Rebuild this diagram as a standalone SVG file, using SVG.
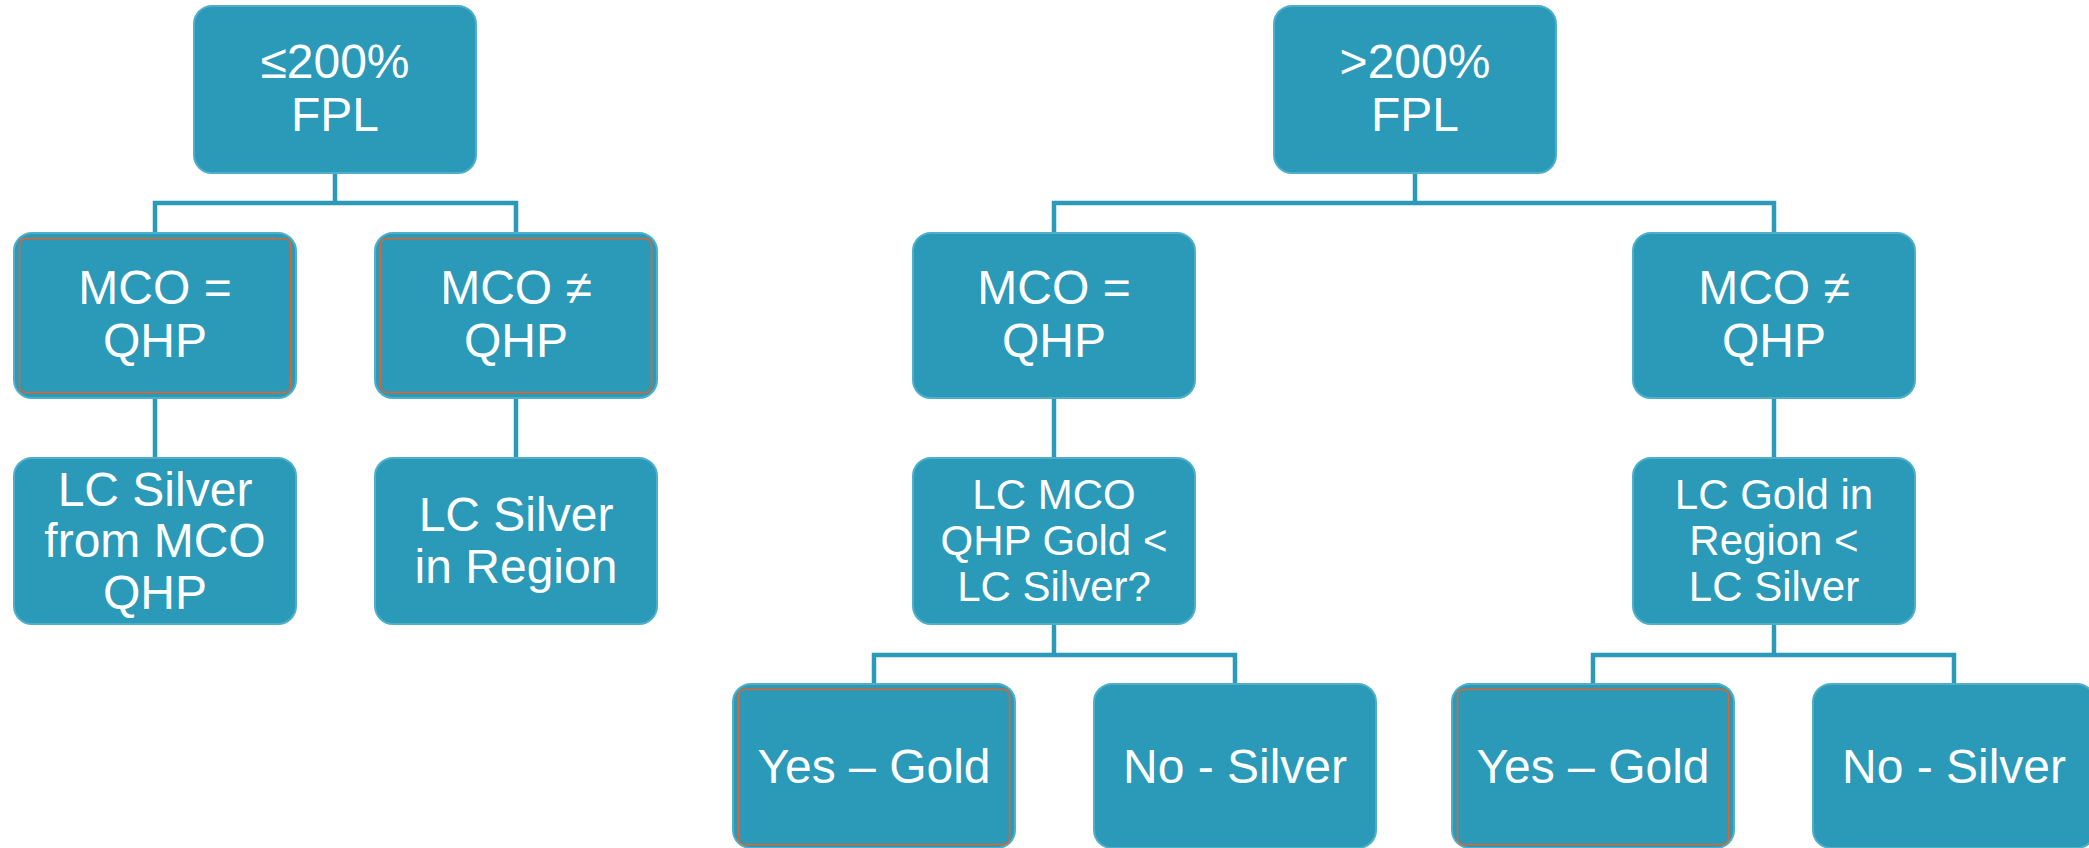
<svg xmlns="http://www.w3.org/2000/svg" width="2089" height="848" viewBox="0 0 2089 848">
<style>
.box{fill:#2A9AB8;stroke:#4FAFCA;stroke-width:2}
.hl{fill:none;stroke:#E4622B;stroke-width:1.6}
.t{font-family:"Liberation Sans",Arial,sans-serif;fill:#FFFFFF;text-anchor:middle}
.f48{font-size:48px}
.f42{font-size:42px}
.conn{fill:none;stroke:#2A9AB8;stroke-width:4.5;stroke-linejoin:miter}
</style>
<rect width="2089" height="848" fill="#FFFFFF"/>
<g id="connectors">
<path class="conn" d="M335,173 V203 M155,233 V203 H516 V233"/>
<path class="conn" d="M155,398 V458"/>
<path class="conn" d="M516,398 V458"/>
<path class="conn" d="M1415,173 V203 M1054,233 V203 H1774 V233"/>
<path class="conn" d="M1054,398 V458"/>
<path class="conn" d="M1774,398 V458"/>
<path class="conn" d="M1054,624 V655 M874,684 V655 H1235 V684"/>
<path class="conn" d="M1774,624 V655 M1593,684 V655 H1954 V684"/>
</g>
<g id="n_le200">
<rect class="box" x="194" y="6" width="282" height="167" rx="18"/>
<text class="t f48" x="335" y="78">≤200%</text>
<text class="t f48" x="335" y="131">FPL</text>
</g>
<g id="n_l_mco_eq">
<rect class="box" x="14" y="233" width="282" height="165" rx="18"/>
<rect class="hl" x="19.5" y="238.5" width="271" height="154" rx="6"/>
<text class="t f48" x="155" y="304">MCO =</text>
<text class="t f48" x="155" y="357">QHP</text>
</g>
<g id="n_l_mco_ne">
<rect class="box" x="375" y="233" width="282" height="165" rx="18"/>
<rect class="hl" x="380.5" y="238.5" width="271" height="154" rx="6"/>
<text class="t f48" x="516" y="304">MCO ≠</text>
<text class="t f48" x="516" y="357">QHP</text>
</g>
<g id="n_lc_silver_mco">
<rect class="box" x="14" y="458" width="282" height="166" rx="18"/>
<text class="t f48" x="155" y="506">LC Silver</text>
<text class="t f48" x="155" y="557">from MCO</text>
<text class="t f48" x="155" y="609">QHP</text>
</g>
<g id="n_lc_silver_region">
<rect class="box" x="375" y="458" width="282" height="166" rx="18"/>
<text class="t f48" x="516" y="531">LC Silver</text>
<text class="t f48" x="516" y="583">in Region</text>
</g>
<g id="n_gt200">
<rect class="box" x="1274" y="6" width="282" height="167" rx="18"/>
<text class="t f48" x="1415" y="78">&gt;200%</text>
<text class="t f48" x="1415" y="131">FPL</text>
</g>
<g id="n_r_mco_eq">
<rect class="box" x="913" y="233" width="282" height="165" rx="18"/>
<text class="t f48" x="1054" y="304">MCO =</text>
<text class="t f48" x="1054" y="357">QHP</text>
</g>
<g id="n_r_mco_ne">
<rect class="box" x="1633" y="233" width="282" height="165" rx="18"/>
<text class="t f48" x="1774" y="304">MCO ≠</text>
<text class="t f48" x="1774" y="357">QHP</text>
</g>
<g id="n_lc_mco_gold">
<rect class="box" x="913" y="458" width="282" height="166" rx="18"/>
<text class="t f42" x="1054" y="509">LC MCO</text>
<text class="t f42" x="1054" y="555">QHP Gold &lt;</text>
<text class="t f42" x="1054" y="601">LC Silver?</text>
</g>
<g id="n_lc_gold_region">
<rect class="box" x="1633" y="458" width="282" height="166" rx="18"/>
<text class="t f42" x="1774" y="509">LC Gold in</text>
<text class="t f42" x="1774" y="555">Region &lt;</text>
<text class="t f42" x="1774" y="601">LC Silver</text>
</g>
<g id="n_yes_gold_1">
<rect class="box" x="733" y="684" width="282" height="164" rx="18"/>
<rect class="hl" x="738.5" y="689.5" width="271" height="155" rx="6"/>
<text class="t f48" x="874" y="783">Yes – Gold</text>
</g>
<g id="n_no_silver_1">
<rect class="box" x="1094" y="684" width="282" height="164" rx="18"/>
<text class="t f48" x="1235" y="783">No - Silver</text>
</g>
<g id="n_yes_gold_2">
<rect class="box" x="1452" y="684" width="282" height="164" rx="18"/>
<rect class="hl" x="1457.5" y="689.5" width="271" height="155" rx="6"/>
<text class="t f48" x="1593" y="783">Yes – Gold</text>
</g>
<g id="n_no_silver_2">
<rect class="box" x="1813" y="684" width="282" height="164" rx="18"/>
<text class="t f48" x="1954" y="783">No - Silver</text>
</g>
</svg>
